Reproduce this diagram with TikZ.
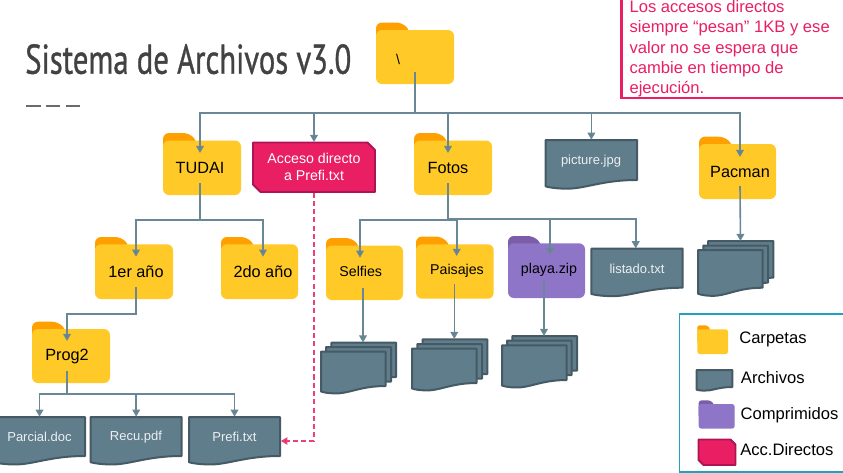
\documentclass[tikz,border=0pt]{standalone}
\usepackage{fontspec}
\usepackage{graphicx}
\setmainfont{Liberation Sans}
\newfontfamily\titlefont[FakeBold=1]{PT Sans}
\usetikzlibrary{arrows.meta,calc}
\definecolor{bodyY}{HTML}{FFCA28}
\definecolor{tabY}{HTML}{FFA000}
\definecolor{bodyP}{HTML}{8E75C8}
\definecolor{tabP}{HTML}{7B5EA7}
\definecolor{docfill}{HTML}{607D8B}
\definecolor{docline}{HTML}{455A64}
\definecolor{linkc}{HTML}{6A8795}
\definecolor{rosa}{HTML}{E91E63}
\definecolor{rosaline}{HTML}{AD1457}
\definecolor{lgteal}{HTML}{1FA2BE}
\definecolor{doctext}{HTML}{ECEFF1}
\newcommand\fa{\fontsize{12.2pt}{14pt}\selectfont}
\newcommand\fb{\fontsize{10.65pt}{12.8pt}\selectfont}
\newcommand\fc{\fontsize{9.75pt}{12pt}\selectfont}
\newcommand\fd{\fontsize{12.45pt}{15.3pt}\selectfont}
\def\ftab{tabY}\def\fbody{bodyY}
% name, left, tab top, body top, right, bottom, text x, text y, text
\newcommand\folder[9]{%
  \pgfmathsetmacro\fw{#5-#2}%
  \pgfmathsetmacro\fh{#6-#4}%
  \pgfmathsetmacro\fcx{(#5+#2)/2}%
  \pgfmathsetmacro\fcy{(#6+#4)/2}%
  \pgfmathsetmacro\tabA{#2+.335*\fw}%
  \pgfmathsetmacro\tabB{#2+.44*\fw}%
  \pgfmathsetmacro\fr{\fw/78*4.5}%
  \fill[\ftab,rounded corners=\fr pt] (#2,#4+14) -- (#2,#3) -- (\tabA,#3) -- (\tabB,#4+1) -- (\tabB,#4+14) -- cycle;
  \node[fill=\fbody,draw=none,rounded corners=\fr pt,inner sep=0pt,minimum width=\fw*.75pt,minimum height=\fh*.75pt] (#1) at (\fcx,\fcy) {};
  \if\relax\detokenize{#9}\relax\else\node[inner sep=0pt,text=black] (#1-t) at (#7,#8) {#9};\fi
}
% name, left, top, right, right-bottom, text x, text y, text
\newcommand\docu[8]{%
  \pgfmathsetmacro\dw{#4-#2}%
  \pgfmathsetmacro\dh{#5-#3}%
  \pgfmathsetmacro\dcx{(#4+#2)/2}%
  \pgfmathsetmacro\dcy{(#5+#3)/2}%
  \draw[fill=docfill,draw=docline,line width=1.5pt,line join=round]
    (#2,#3) -- (#4,#3) -- (#4,#5)
    .. controls (#2+.6*\dw,#5) and (#2+.42*\dw,#5+.24*\dh) .. (#2+.2*\dw,#5+.215*\dh)
    .. controls (#2+.11*\dw,#5+.21*\dh) and (#2+.05*\dw,#5+.19*\dh) .. (#2,#5+.16*\dh) -- cycle;
  \node[inner sep=0pt,minimum width=\dw*.75pt,minimum height=\dh*.75pt] (#1) at (\dcx,\dcy) {};
  \if\relax\detokenize{#8}\relax\else\node[inner sep=0pt,text=doctext] (#1-t) at (#6,#7) {\fc #8};\fi
}
\tikzset{
  conn/.style={draw=linkc,line width=1.2pt},
  arr/.style={conn,-{Triangle[length=5.4pt,width=5.8pt,fill=docfill]}},
  acc/.style={fill=rosa,draw=rosaline,line width=1.4pt,line join=round},
  legendtxt/.style={anchor=west,inner sep=0pt,text=black,font=\fd},
}
\begin{document}
\begin{tikzpicture}[x=.75pt,y=-.75pt]
\useasboundingbox (0,0) rectangle (843,472);
\clip (0,0) rectangle (843,472);

% title
\node[anchor=south west,inner sep=0pt,text=black!74] (title) at (25,74.5) {\resizebox{244.5pt}{22.2pt}{\titlefont Sistema de Archivos v3.0}};
\draw[draw=black!58,line width=1.3pt,dash pattern=on 10.9pt off 4pt] (26,106.3) -- (82,106.3);

% note
\node[draw=rosa,line width=1.7pt,anchor=south west,minimum width=190pt,minimum height=90pt,inner sep=0pt] (notebox) at (620.3,99) {};
\node[anchor=north west,align=left,inner sep=0pt,text=rosa,font=\fd] (note) at (629.3,0) {Los accesos directos\\siempre “pesan” 1KB y ese\\valor no se espera que\\cambie en tiempo de\\ejecución.};

% folders
\folder{root}{376}{22.5}{30}{454}{84}{398}{59}{\fb \textbackslash}
\folder{tudai}{163}{133}{140.5}{241}{195}{200}{168}{\fa TUDAI}
\folder{fotos}{414}{133}{140.5}{492}{195}{448}{168}{\fa Fotos}
\folder{pacman}{699}{136.7}{144}{776}{199}{740}{172}{\fa Pacman}
\folder{uno}{95}{237}{244.3}{173}{299}{136}{272}{\fa 1er año}
\folder{dos}{221}{237}{244.3}{298}{299}{263}{272}{\fa 2do año}
\folder{prog}{32}{321.7}{329}{110}{383}{67}{357}{\fa Prog2}
\folder{selfies}{326}{238}{245.5}{403}{300}{360.7}{271.7}{\fb Selfies}
\folder{paisajes}{416}{236.5}{244.3}{493.7}{298.7}{457}{270.7}{\fb Paisajes}
\def\ftab{tabP}\def\fbody{bodyP}
\folder{playa}{508}{236}{243.3}{585}{298}{549}{270}{\fb playa.zip}
\def\ftab{tabY}\def\fbody{bodyY}

% shortcut
\draw[acc] (253,142.5) -- (367.5,142.5) -- (375,150) -- (375,192) -- (260.5,192) -- (253,184.5) -- cycle;
\node[inner sep=0pt,minimum width=91.5pt,minimum height=37.5pt,text=white,align=center,font=\fb] (acceso) at (314,167.3) {Acceso directo\\a Prefi.txt};

% documents
\docu{picture}{545.7}{140}{637}{180}{591}{161}{picture.jpg}
\docu{listado}{591.3}{248.7}{682.7}{287.7}{637}{268.7}{listado.txt}
\docu{parcial}{-6}{417}{85}{456}{39.5}{437}{Parcial.doc}
\docu{recu}{90.7}{417}{181.7}{456}{136}{437}{Recu.pdf}
\docu{prefi}{189}{417}{280}{456}{234.5}{437}{Prefi.txt}

% stacks
\docu{pacA}{708}{241}{773.3}{277.7}{0}{0}{}
\docu{pacB}{703.3}{245.5}{768}{282.7}{0}{0}{}
\docu{pacC}{698}{250}{762.7}{287.7}{0}{0}{}
\docu{selA}{331.3}{342.7}{396}{377}{0}{0}{}
\docu{selB}{326}{347}{391}{381.5}{0}{0}{}
\docu{selC}{321}{351.7}{385.7}{386}{0}{0}{}
\docu{paiA}{422.6}{339.3}{487.3}{374}{0}{0}{}
\docu{paiB}{417.3}{344}{482}{378.5}{0}{0}{}
\docu{paiC}{412}{348.7}{476.7}{383}{0}{0}{}
\docu{plaA}{512.3}{336}{577}{370.5}{0}{0}{}
\docu{plaB}{507}{340.7}{571.7}{375}{0}{0}{}
\docu{plaC}{502}{345.3}{566.7}{380}{0}{0}{}

% connector ends
\coordinate (root-out) at (415,72);
\coordinate (bus) at (415,113);
\coordinate (tudai-in) at (200,153);
\coordinate (acceso-in) at (acceso.north);
\coordinate (fotos-in) at (448,153);
\coordinate (pacman-in) at (740,157);
\coordinate (tudai-out) at (200,183);
\coordinate (tudai-bus) at (200,220);
\coordinate (uno-in) at (136,256.7);
\coordinate (dos-in) at (263,256.7);
\coordinate (uno-out) at (136,286.7);
\coordinate (uno-bus) at (136,314);
\coordinate (prog-in) at (67,341);
\coordinate (prog-out) at (67,371);
\coordinate (prog-bus) at (67,394);
\coordinate (fotos-out) at (448,183);
\coordinate (fotos-bus) at (448,220);
\coordinate (fotos-bus2) at (448,219);
\coordinate (selfies-in) at (360,257.7);
\coordinate (paisajes-in) at (456.7,256);
\coordinate (playa-in) at (550,255);
\coordinate (listado-in) at (635.7,248.4);
\coordinate (pacman-out) at (740,186);
\coordinate (stackpac-in) at (740.5,241);
\coordinate (selfies-out) at (363,287.7);
\coordinate (stacksel-in) at (363,342.5);
\coordinate (paisajes-out) at (454.3,284.3);
\coordinate (stackpai-in) at (454.3,339);
\coordinate (playa-out) at (544,281);
\coordinate (stackpla-in) at (544,336);
\coordinate (acc-bend) at (314,441);
\coordinate (prefi-in) at (280.8,441);

% connectors
\draw[arr] (root-out) -- (bus) -| (tudai-in);
\draw[arr] (bus) -| (acceso-in);
\draw[arr] (bus) -| (fotos-in);
\draw[arr] (bus) -| (picture.north);
\draw[arr] (bus) -| (pacman-in);
\draw[arr] (tudai-out) -- (tudai-bus) -| (uno-in);
\draw[arr] (tudai-bus) -| (dos-in);
\draw[arr] (uno-out) -- (uno-bus) -| (prog-in);
\draw[arr] (prog-out) -- (prog-bus) -| (parcial.north);
\draw[arr] (prog-bus) -| (recu.north);
\draw[arr] (prog-bus) -| (prefi.north);
\draw[arr] (fotos-out) -- (fotos-bus) -| (selfies-in);
\draw[arr] (fotos-bus) -| (paisajes-in);
\draw[arr] (fotos-bus2) -| (playa-in);
\draw[arr] (fotos-bus2) -| (listado-in);
\draw[arr] (pacman-out) -- (stackpac-in);
\draw[arr] (selfies-out) -- (stacksel-in);
\draw[arr] (paisajes-out) -- (stackpai-in);
\draw[arr] (playa-out) -- (stackpla-in);
\draw[draw=rosa!85!white,line width=1.3pt,dash pattern=on 3.8pt off 2.4pt,-{Triangle[length=5pt,width=5.5pt,fill=rosa]}] (acceso.south) -- (acc-bend) -- (prefi-in);

% legend
\node[draw=lgteal,line width=1pt,anchor=north west,minimum width=130pt,minimum height=118.5pt,inner sep=0pt] (legend) at (678.7,313.3) {};
\folder{lgfolder}{697.3}{325.3}{329.3}{728}{354}{0}{0}{}
\node[legendtxt] (lgfoldert) at (739,339.3) {Carpetas};
\docu{lgdoc}{696.7}{370}{732.3}{387}{0}{0}{}
\node[legendtxt] (lgdoct) at (740.7,378) {Archivos};
\def\ftab{tabP}\def\fbody{bodyP}
\folder{lgzip}{698.7}{400.3}{404}{734.7}{428.7}{0}{0}{}
\def\ftab{tabY}\def\fbody{bodyY}
\node[legendtxt] (lgzipt) at (740.3,415) {Comprimidos};
\draw[acc] (698.5,439.5) -- (730.5,439.5) -- (735.5,444.5) -- (735.5,465) -- (703.5,465) -- (698.5,460) -- cycle;
\node[legendtxt] (lgacct) at (740,450) {Acc.Directos};
\end{tikzpicture}
\end{document}
